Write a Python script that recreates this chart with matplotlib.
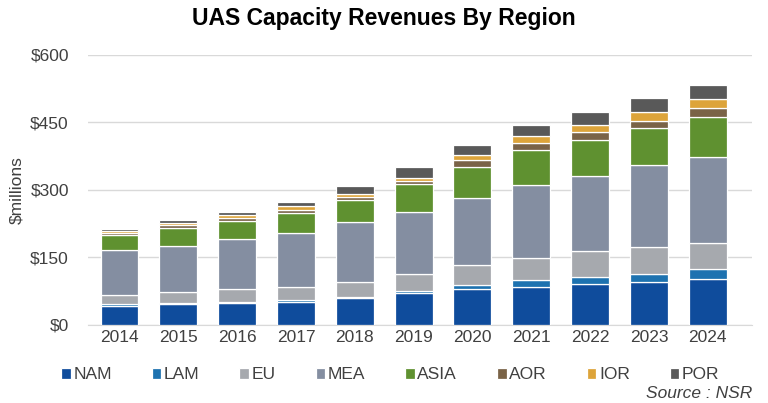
import matplotlib.pyplot as plt
import numpy as np
from matplotlib import font_manager

# font: narrow sans like the reference
names = {f.name for f in font_manager.fontManager.ttflist}
fam = 'Liberation Sans Narrow' if 'Liberation Sans Narrow' in names else 'Liberation Sans'
plt.rcParams['font.family'] = [fam, 'DejaVu Sans']

years = ['2014', '2015', '2016', '2017', '2018', '2019', '2020', '2021', '2022', '2023', '2024']
regions = ['NAM', 'LAM', 'EU', 'MEA', 'ASIA', 'AOR', 'IOR', 'POR']

nam = [41, 47, 49, 51, 60, 70, 80, 85, 90, 96, 102]
lam = [5, 2, 2, 4, 2, 5, 9, 14, 17, 17, 21]
eu = [21, 24, 28, 30, 34, 37, 44, 50, 56, 61, 59]
mea = [99, 103, 111, 120, 133, 138, 149, 162, 167, 181, 191]
asia = [33, 39, 41, 43, 49, 62, 69, 77, 80, 82, 89]
aor = [5, 6, 6, 8, 7, 7, 15, 16, 18, 17, 19]
ior = [5, 6, 6, 8, 6, 8, 11, 15, 16, 20, 20]
por = [5, 7, 7, 9, 17, 23, 23, 26, 29, 29, 32]

colores = ['#0f4c9c', '#1d72b0', '#a6a9ae', '#848ea1', '#5f9130', '#7a6347', '#dda43a', '#595959']

fig = plt.figure(figsize=(7.68, 4.03), dpi=100)
ax = fig.add_axes([0.115, 0.194, 0.864, 0.67])

x = np.arange(len(years))
base = np.zeros(len(years))
for nombre, vals, c in zip(regions, [nam, lam, eu, mea, asia, aor, ior, por], colores):
    vals = np.array(vals, dtype=float)
    ax.bar(x, vals, bottom=base, width=0.645, color=c, edgecolor='white',
           linewidth=0.9, label=nombre, zorder=3)
    base += vals

ax.set_ylim(0, 600)
ax.set_yticks([0, 150, 300, 450, 600])
ax.set_yticklabels(['$0', '$150', '$300', '$450', '$600'])
ax.set_xlim(-0.53, 10.75)
ax.set_xticks(x)
ax.set_xticklabels(years)
ax.grid(axis='y', color='#d9d9d9', linewidth=1, zorder=0)
for s in ['top', 'right', 'left']:
    ax.spines[s].set_visible(False)
ax.spines['bottom'].set_color('#d9d9d9')
ax.tick_params(axis='both', length=0, labelsize=12.5, colors='#404040')
ax.tick_params(axis='y', pad=14)
ax.set_ylabel('$millions', fontsize=12.5, color='#404040', labelpad=4)

fig.text(0.5, 0.955, 'UAS Capacity Revenues By Region', ha='center', va='center',
         fontsize=16.5, weight='bold', color='black')

ax.legend(loc='upper center', bbox_to_anchor=(0.455, -0.1), ncol=8, frameon=False,
          fontsize=12.5, handlelength=0.55, handleheight=0.55, handletextpad=0.15,
          columnspacing=2.3, labelcolor='#404040')

fig.text(0.98, 0.005, 'Source : NSR', ha='right', va='bottom', fontsize=12.5,
         style='italic', color='#404040')

fig.savefig('out.png', dpi=100)
